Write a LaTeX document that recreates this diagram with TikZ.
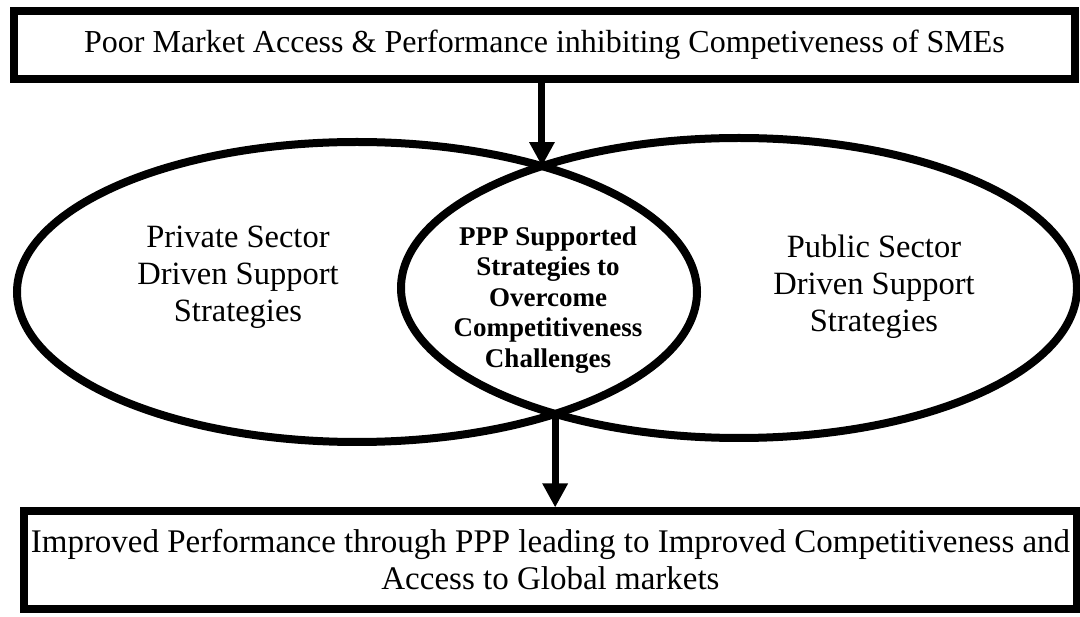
\documentclass[tikz,border=0pt]{standalone}
\usepackage{fontspec}
\setmainfont{Liberation Serif}
\usepackage{tikz}
\usetikzlibrary{arrows.meta}
\usetikzlibrary{intersections}
\tikzstyle{banner} = [rectangle, draw=black, line width=8pt, inner sep=0pt, text centered, align=center, font=\fontsize{33}{37}\selectfont]
\tikzstyle{oval} = [draw=black, line width=8pt]
\tikzstyle{ovaltext} = [align=center, font=\fontsize{32.5}{37}\selectfont]
\tikzstyle{lenstext} = [align=center, font=\fontsize{27}{30.5}\selectfont\bfseries]
\tikzstyle{thickarrow} = [line width=7pt, -{Triangle[length=24pt,width=24pt]}]

\begin{document}
\begin{tikzpicture}[x=1pt, y=1pt]
        \useasboundingbox (0,0) rectangle (1080,-617);
        \node (problem) [banner, minimum width=1061pt, minimum height=68pt, font=\fontsize{32}{37}\selectfont] at (544.5,-45) {Poor Market Access \& Performance inhibiting Competiveness of SMEs};
        \node (outcome) [banner, minimum width=1053pt, minimum height=97pt] at (550.5,-560) {Improved Performance through PPP leading to Improved Competitiveness and\\Access to Global markets};
        \draw [oval, name path=privateov] (357,-292) ellipse [x radius=340, y radius=150];
        \draw [oval, name path=publicov] (739,-288) ellipse [x radius=338, y radius=150];
        \path [name intersections={of=privateov and publicov, by={topcross,botcross}}];
        \node (private) [ovaltext] at (238,-277) {Private Sector\\Driven Support\\Strategies};
        \node (public) [ovaltext] at (874,-287) {Public Sector\\Driven Support\\Strategies};
        \node (ppp) [lenstext] at (548,-300) {PPP Supported\\Strategies to\\Overcome\\Competitiveness\\Challenges};
        \draw [thickarrow] (problem.south -| topcross) -- (topcross);
        \draw [thickarrow] (botcross) -- (outcome.north -| botcross);
    \end{tikzpicture}
\end{document}
